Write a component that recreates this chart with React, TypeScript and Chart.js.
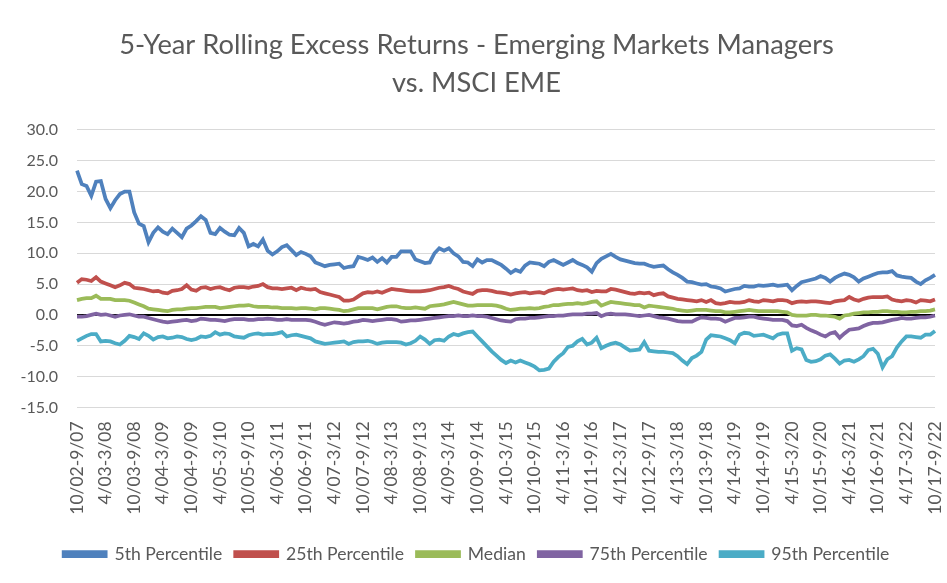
import React, { useEffect, useRef } from "react";
import { Chart, registerables } from "chart.js";

Chart.register(...registerables);

const TITLE_LINES = ["5-Year Rolling Excess Returns - Emerging Markets Managers", "vs. MSCI EME"];

// rolling 5-year windows, monthly, first window 10/02-9/07, last 10/17-9/22
const START_MONTH = 10;
const START_YEAR = 2002;
const N_PERIODS = 181;
const TICK_EVERY = 6;

const pad2 = (n: number) => String(n % 100).padStart(2, "0");
const CATEGORIES: string[] = Array.from({ length: N_PERIODS }, (_, i) => {
  const s = START_YEAR * 12 + (START_MONTH - 1) + i;
  const e = s + 59;
  return `${(s % 12) + 1}/${pad2(Math.floor(s / 12))}-${(e % 12) + 1}/${pad2(Math.floor(e / 12))}`;
});

const P5 = [
  23.4, 21.2, 20.9, 19.3, 21.6, 21.7, 18.8, 17.3, 18.6, 19.6, 20.0, 20.0, 16.6, 14.8, 14.4, 11.8, 13.3, 14.2, 13.5, 13.1,
  14.0, 13.3, 12.6, 14.0, 14.5, 15.2, 16.0, 15.4, 13.3, 13.1, 14.1, 13.5, 13.0, 12.9, 14.1, 13.3, 11.1, 11.5, 11.1, 12.2,
  10.4, 9.8, 10.3, 11.0, 11.3, 10.5, 9.7, 10.2, 9.9, 9.5, 8.5, 8.2, 7.9, 8.1, 8.2, 8.3, 7.6, 7.8, 7.9, 9.4,
  9.2, 8.9, 9.3, 8.6, 9.2, 8.5, 9.4, 9.4, 10.3, 10.3, 10.3, 9.0, 8.7, 8.4, 8.5, 10.0, 10.8, 10.4, 10.8, 10.0,
  9.5, 8.6, 8.5, 7.9, 9.0, 8.5, 8.9, 8.9, 8.5, 8.1, 7.5, 6.8, 7.3, 7.0, 8.0, 8.5, 8.4, 8.3, 7.9, 8.6,
  8.9, 8.5, 8.1, 8.5, 8.9, 8.4, 8.1, 7.7, 7.0, 8.4, 9.1, 9.5, 9.9, 9.4, 9.0, 8.8, 8.6, 8.4, 8.3, 8.3,
  8.0, 7.8, 7.9, 8.0, 7.4, 6.9, 6.5, 6.0, 5.4, 5.3, 5.1, 4.9, 5.0, 4.6, 4.5, 4.3, 3.8, 4.0, 4.2, 4.3,
  4.7, 4.6, 4.6, 4.8, 4.7, 4.8, 4.9, 4.7, 4.8, 4.9, 4.0, 4.7, 5.3, 5.5, 5.7, 5.9, 6.3, 6.0, 5.4, 6.0,
  6.4, 6.7, 6.5, 6.1, 5.4, 5.9, 6.2, 6.5, 6.8, 6.9, 6.9, 7.1, 6.4, 6.2, 6.1, 6.0, 5.4, 5.0, 5.6, 6.0,
  6.5,
];

const P25 = [
  5.2, 5.8, 5.7, 5.5, 6.1, 5.4, 5.1, 4.8, 4.5, 4.8, 5.2, 5.0, 4.4, 4.3, 4.2, 4.0, 3.8, 3.9, 3.6, 3.5,
  3.9, 4.0, 4.2, 4.8, 4.1, 3.9, 4.4, 4.5, 4.2, 4.4, 4.5, 4.2, 4.0, 4.4, 4.5, 4.5, 4.4, 4.6, 4.7, 5.0,
  4.5, 4.3, 4.3, 4.2, 4.3, 4.4, 4.0, 4.4, 4.2, 4.1, 4.2, 3.7, 3.5, 3.3, 3.1, 2.9, 2.3, 2.3, 2.5, 3.0,
  3.5, 3.7, 3.6, 3.8, 3.6, 3.9, 4.2, 4.1, 4.0, 3.9, 3.8, 3.8, 3.8, 3.9, 4.0, 4.2, 4.4, 4.5, 4.7, 4.4,
  4.2, 3.8, 3.6, 3.4, 3.9, 4.0, 4.0, 3.9, 3.7, 3.6, 3.5, 3.3, 3.5, 3.6, 3.7, 3.5, 3.6, 3.7, 3.5, 3.9,
  4.1, 4.2, 4.1, 4.2, 4.3, 4.0, 3.9, 4.0, 3.7, 3.9, 3.8, 3.8, 4.2, 4.1, 3.9, 3.7, 3.5, 3.4, 3.6, 3.5,
  3.6, 3.2, 3.4, 3.5, 3.0, 2.8, 2.6, 2.5, 2.4, 2.3, 2.2, 2.4, 2.1, 2.4, 1.9, 1.8, 1.9, 2.1, 2.0, 2.0,
  2.1, 2.4, 2.2, 2.1, 2.4, 2.3, 2.2, 2.4, 2.4, 2.3, 1.9, 2.1, 2.2, 2.1, 2.2, 2.2, 2.1, 2.0, 1.9, 2.2,
  2.3, 2.4, 2.9, 2.5, 2.3, 2.6, 2.8, 2.9, 2.9, 2.9, 3.0, 2.5, 2.3, 2.2, 2.4, 2.3, 2.0, 2.4, 2.3, 2.2,
  2.5,
];

const MEDIAN = [
  2.4, 2.6, 2.7, 2.7, 3.1, 2.6, 2.6, 2.6, 2.4, 2.4, 2.4, 2.3, 2.0, 1.7, 1.4, 1.0, 0.9, 0.8, 0.7, 0.6,
  0.8, 0.9, 0.9, 1.0, 1.1, 1.1, 1.2, 1.3, 1.3, 1.3, 1.1, 1.2, 1.3, 1.4, 1.5, 1.5, 1.6, 1.4, 1.3, 1.3,
  1.3, 1.2, 1.2, 1.1, 1.1, 1.1, 1.0, 1.1, 1.1, 1.0, 0.9, 1.1, 1.1, 1.0, 0.9, 0.8, 0.6, 0.7, 0.9, 1.1,
  1.1, 1.1, 1.1, 0.9, 1.1, 1.3, 1.4, 1.4, 1.2, 1.1, 1.1, 1.2, 1.1, 1.0, 1.4, 1.5, 1.6, 1.7, 1.9, 2.1,
  1.9, 1.7, 1.5, 1.5, 1.6, 1.6, 1.6, 1.6, 1.5, 1.3, 1.0, 0.8, 0.9, 1.0, 1.0, 1.1, 1.0, 1.1, 1.3, 1.4,
  1.6, 1.6, 1.7, 1.8, 1.8, 1.9, 1.8, 1.9, 2.1, 2.2, 1.5, 1.8, 2.1, 2.0, 1.9, 1.8, 1.7, 1.6, 1.6, 1.2,
  1.5, 1.4, 1.3, 1.2, 1.1, 1.0, 0.8, 0.7, 0.6, 0.7, 0.8, 0.8, 0.8, 0.7, 0.6, 0.6, 0.4, 0.4, 0.5, 0.6,
  0.7, 0.8, 0.7, 0.6, 0.6, 0.6, 0.6, 0.6, 0.5, 0.4, 0.0, -0.1, -0.1, -0.1, 0.0, 0.0, -0.1, -0.1, -0.2, -0.3,
  -0.6, -0.1, 0.0, 0.2, 0.3, 0.4, 0.4, 0.5, 0.5, 0.6, 0.6, 0.5, 0.5, 0.4, 0.4, 0.5, 0.5, 0.6, 0.6, 0.7,
  0.9,
];

const P75 = [
  -0.3, -0.3, -0.2, 0.0, 0.2, 0.0, 0.1, -0.1, -0.3, -0.1, 0.0, 0.1, -0.1, -0.3, -0.3, -0.5, -0.7, -0.9, -1.1, -1.2,
  -1.1, -1.0, -0.9, -0.8, -1.0, -0.9, -0.6, -0.7, -0.8, -0.8, -0.9, -1.0, -0.8, -0.7, -0.7, -0.7, -0.8, -0.8, -0.7, -0.7,
  -0.6, -0.7, -0.8, -0.8, -0.7, -0.8, -0.8, -0.8, -0.8, -0.9, -1.1, -1.4, -1.6, -1.4, -1.2, -1.3, -1.4, -1.3, -1.1, -1.0,
  -0.8, -0.9, -1.0, -0.9, -0.8, -0.7, -0.7, -0.8, -1.1, -1.0, -0.9, -0.9, -0.8, -0.7, -0.6, -0.5, -0.4, -0.3, -0.2, -0.2,
  -0.1, -0.2, -0.2, -0.1, -0.2, -0.2, -0.3, -0.5, -0.7, -0.9, -1.0, -1.1, -0.7, -0.6, -0.6, -0.5, -0.5, -0.4, -0.3, -0.2,
  -0.2, -0.1, -0.1, 0.0, 0.1, 0.1, 0.1, 0.2, 0.2, 0.3, -0.2, 0.1, 0.2, 0.1, 0.1, 0.1, 0.0, -0.1, -0.2, -0.1,
  0.0, -0.2, -0.4, -0.5, -0.6, -0.8, -1.0, -1.1, -1.1, -1.1, -0.7, -0.4, -0.5, -0.6, -0.6, -0.7, -1.1, -0.8, -0.5, -0.5,
  -0.4, -0.3, -0.3, -0.5, -0.6, -0.7, -0.8, -0.8, -0.8, -1.0, -1.7, -1.8, -1.6, -2.1, -2.5, -2.8, -3.2, -3.5, -3.0, -2.8,
  -3.7, -3.0, -2.4, -2.3, -2.2, -1.8, -1.5, -1.3, -1.3, -1.2, -1.0, -0.8, -0.7, -0.5, -0.6, -0.6, -0.5, -0.4, -0.4, -0.3,
  -0.1,
];

const P95 = [
  -4.2, -3.8, -3.4, -3.1, -3.1, -4.3, -4.2, -4.3, -4.6, -4.8, -4.2, -3.4, -3.6, -3.9, -3.0, -3.4, -4.0, -3.6, -3.5, -3.8,
  -3.7, -3.5, -3.6, -3.9, -4.1, -3.9, -3.5, -3.6, -3.4, -2.8, -3.2, -3.0, -3.1, -3.5, -3.6, -3.7, -3.3, -3.1, -3.0, -3.2,
  -3.1, -3.1, -3.0, -2.8, -3.5, -3.3, -3.2, -3.4, -3.6, -3.8, -4.3, -4.5, -4.7, -4.6, -4.5, -4.4, -4.3, -4.7, -4.4, -4.3,
  -4.3, -4.2, -4.4, -4.7, -4.5, -4.4, -4.4, -4.4, -4.5, -4.8, -4.6, -4.2, -3.5, -4.0, -4.7, -4.1, -4.0, -4.2, -3.5, -3.1,
  -3.3, -3.0, -2.8, -2.7, -3.5, -4.3, -5.1, -5.9, -6.6, -7.3, -7.8, -7.4, -7.7, -7.4, -7.7, -8.0, -8.4, -9.0, -8.9, -8.7,
  -7.6, -6.8, -6.2, -5.2, -5.0, -4.3, -3.9, -4.8, -4.5, -3.7, -5.4, -5.0, -4.7, -4.5, -4.8, -5.3, -5.8, -5.7, -5.6, -4.4,
  -5.8, -5.9, -6.0, -6.0, -6.1, -6.2, -6.7, -7.4, -8.0, -7.0, -6.6, -6.0, -4.0, -3.3, -3.4, -3.5, -3.8, -4.1, -4.6, -3.2,
  -2.9, -3.0, -3.4, -3.3, -3.2, -3.5, -3.8, -3.2, -3.0, -3.0, -5.8, -5.4, -5.6, -7.3, -7.6, -7.5, -7.2, -6.6, -6.4, -7.1,
  -7.9, -7.4, -7.3, -7.6, -7.2, -6.7, -5.7, -5.5, -6.3, -8.5, -7.2, -6.7, -5.3, -4.3, -3.5, -3.5, -3.6, -3.7, -3.2, -3.2,
  -2.6,
];

const SERIES_NAMES = ["5th Percentile", "25th Percentile", "Median", "75th Percentile", "95th Percentile"];
const SERIES_COLORS = ["#4F81BD", "#C0504D", "#9BBB59", "#8064A2", "#4BACC6"];
const SERIES_VALUES = [P5, P25, MEDIAN, P75, P95];

const Y_MIN = -15;
const Y_MAX = 30;
const Y_STEP = 5;

const FONT = "Lato, 'Open Sans', sans-serif";
const TEXT = "#595959";

export default function App() {
  const ref = useRef<HTMLCanvasElement | null>(null);

  useEffect(() => {
    if (!ref.current) return;
    const chart = new Chart(ref.current, {
      type: "line",
      data: {
        labels: CATEGORIES,
        datasets: SERIES_VALUES.map((vals, k) => ({
          label: SERIES_NAMES[k],
          data: vals,
          borderColor: SERIES_COLORS[k],
          backgroundColor: SERIES_COLORS[k],
          borderWidth: 3.75,
          pointRadius: 0,
          tension: 0,
          fill: false,
        })),
      },
      options: {
        responsive: false,
        animation: false,
        layout: { padding: { left: 18, right: 12, top: 0, bottom: 10 } },
        plugins: {
          title: {
            display: true,
            text: TITLE_LINES,
            color: TEXT,
            font: { family: FONT, size: 27.3, weight: "normal", lineHeight: 1.39 },
            padding: { top: 26, bottom: 28 },
          },
          legend: {
            display: true,
            position: "bottom",
            labels: {
              color: TEXT,
              font: { family: FONT, size: 17.6 },
              boxWidth: 42,
              boxHeight: 4,
              padding: 13,
            },
          },
          tooltip: { enabled: false },
        },
        scales: {
          x: {
            offset: false,
            grid: { display: false, drawTicks: false },
            border: { display: false },
            ticks: {
              autoSkip: false,
              maxRotation: 90,
              minRotation: 90,
              padding: 14,
              color: TEXT,
              font: { family: FONT, size: 17.5 },
              callback: (_v: any, i: number) => (i % TICK_EVERY === 0 ? CATEGORIES[i] : null),
            },
            afterFit: (scale: any) => {
              scale.paddingRight = 0;
              scale.paddingLeft = 0;
              scale.height = 125;
            },
          },
          y: {
            min: Y_MIN,
            max: Y_MAX,
            grid: {
              drawTicks: false,
              color: (ctx: any) => (ctx.tick && ctx.tick.value === 0 ? "#000000" : "#d9d9d9"),
              lineWidth: (ctx: any) => (ctx.tick && ctx.tick.value === 0 ? 2 : 1),
            },
            border: { display: false },
            ticks: {
              stepSize: Y_STEP,
              padding: 19,
              color: TEXT,
              font: { family: FONT, size: 16 },
              callback: (v: any) => Number(v).toFixed(1),
            },
            afterFit: (scale: any) => {
              scale.width = 59;
            },
          },
        },
      },
    });
    return () => chart.destroy();
  }, []);

  return (
    <div style={{ position: "absolute", left: 0, top: 0, width: 947, height: 583, background: "#fff" }}>
      <canvas ref={ref} width={947} height={583} />
    </div>
  );
}
